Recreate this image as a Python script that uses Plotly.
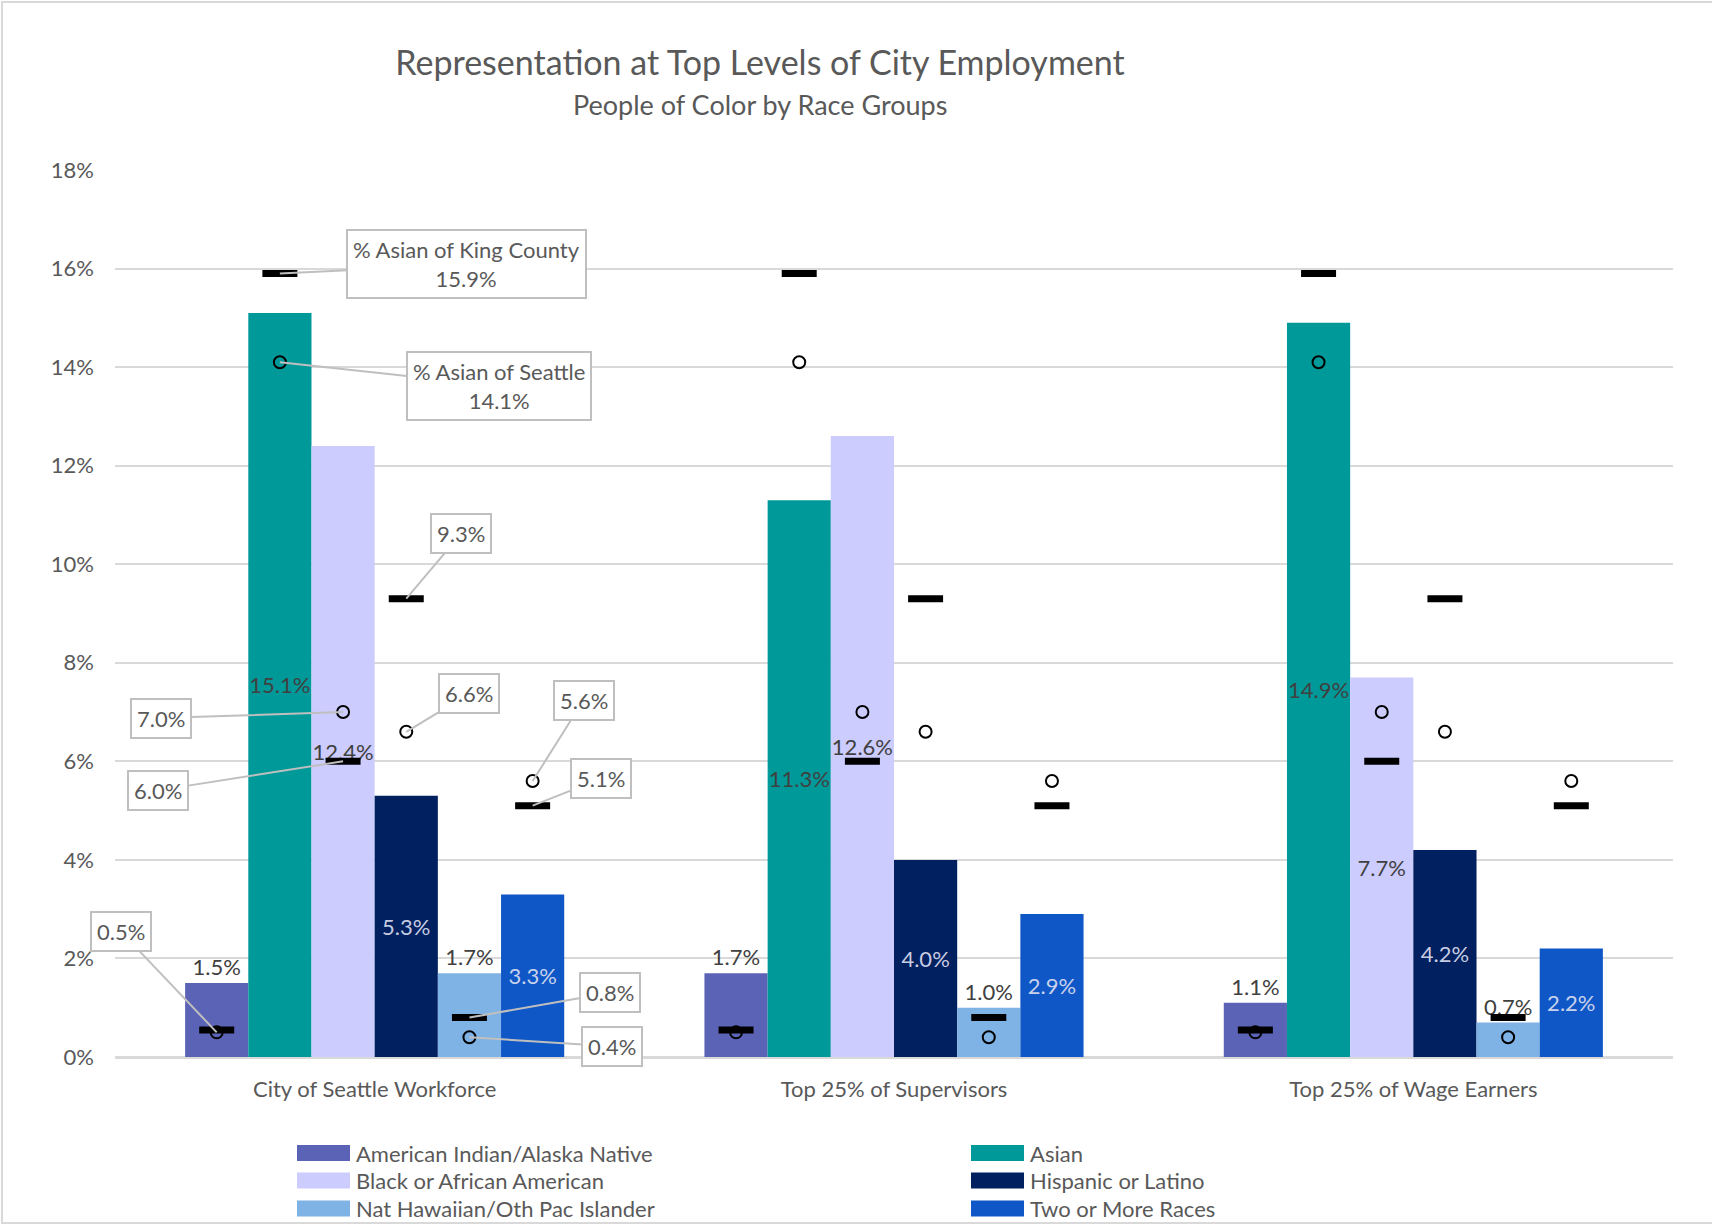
import plotly.graph_objects as go

# ---------------- data ----------------
categories = ["City of Seattle Workforce", "Top 25% of Supervisors", "Top 25% of Wage Earners"]
races = [
    "American Indian/Alaska Native",
    "Asian",
    "Black or African American",
    "Hispanic or Latino",
    "Nat Hawaiian/Oth Pac Islander",
    "Two or More Races",
]
american_indian = [1.5, 1.7, 1.1]
asian = [15.1, 11.3, 14.9]
black = [12.4, 12.6, 7.7]
hispanic = [5.3, 4.0, 4.2]
pacific_islander = [1.7, 1.0, 0.7]
two_or_more = [3.3, 2.9, 2.2]

# benchmark values per race (same for every category)
king_county_pct = [0.55, 15.9, 6.0, 9.3, 0.8, 5.1]
seattle_pct = [0.5, 14.1, 7.0, 6.6, 0.4, 5.6]

y_ticks = [0, 2, 4, 6, 8, 10, 12, 14, 16, 18]
y_tick_labels = ["0%", "2%", "4%", "6%", "8%", "10%", "12%", "14%", "16%", "18%"]

# ---------------- styles ----------------
series = [american_indian, asian, black, hispanic, pacific_islander, two_or_more]
colors = ["#5B63B6", "#009999", "#CCCCFF", "#002060", "#7FB2E5", "#0F57C6"]
label_colors = ["#404040", "#404040", "#404040", "#C8CCE2", "#404040", "#C8D2EC"]
label_pos = ["outside", "inside", "inside", "inside", "outside", "inside"]
FONT = "Lato"
GREY = "#595959"
BARGAP = 0.27
FS = 22

W, H = 1712, 1225
ML, MR, MT, MB = 115, 39, 170, 168
PW, PH = W - ML - MR, H - MT - MB


def paper_x(px):
    return (px - ML) / PW


def paper_y(py):
    return (H - MB - py) / PH


fig = go.Figure()

for i, (name, vals) in enumerate(zip(races, series)):
    fig.add_trace(go.Bar(
        x=categories, y=vals, name=name,
        marker=dict(color=colors[i], line=dict(width=0)),
        offsetgroup=str(i),
        texttemplate="%{y:.1f}%",
        textposition=label_pos[i],
        insidetextanchor="middle",
        constraintext="none",
        textangle=0,
        textfont=dict(family=FONT, size=FS, color=label_colors[i]),
        outsidetextfont=dict(family=FONT, size=FS, color=label_colors[i]),
        cliponaxis=False,
        hoverinfo="skip",
        showlegend=False,
    ))

# Seattle benchmark (open circles)
for i, name in enumerate(races):
    fig.add_trace(go.Scatter(
        x=categories, y=[seattle_pct[i]] * len(categories),
        mode="markers", offsetgroup=str(i), showlegend=False,
        marker=dict(symbol="circle-open", size=12, color="black", line=dict(width=2, color="black")),
        hoverinfo="skip", cliponaxis=False,
    ))
# King County benchmark (dashes)
for i, name in enumerate(races):
    fig.add_trace(go.Scatter(
        x=categories, y=[king_county_pct[i]] * len(categories),
        mode="markers", offsetgroup=str(i), showlegend=False,
        marker=dict(symbol="line-ew", size=25, color="black", line=dict(width=7, color="black")),
        hoverinfo="skip", cliponaxis=False,
    ))

# ---------------- callouts (first category) ----------------
slot = (1 - BARGAP) / len(races)


def bar_x(race_idx, cat_idx=0):
    return cat_idx + (race_idx - (len(races) - 1) / 2) * slot


callouts = [
    # (race idx, which benchmark, text, ax, ay)
    (1, "king", "% Asian of King County<br>15.9%", 187, -9),
    (1, "sea", "% Asian of Seattle<br>14.1%", 219, 24),
    (3, "king", "9.3%", 55, -65),
    (2, "sea", "7.0%", -182, 6),
    (3, "sea", "6.6%", 63, -38),
    (2, "king", "6.0%", -185, 29),
    (5, "sea", "5.6%", 51, -81),
    (5, "king", "5.1%", 68, -27),
    (0, "sea", "0.5%", -96, -101),
    (4, "king", "0.8%", 141, -25),
    (4, "sea", "0.4%", 143, 9),
]
for r, kind, txt, ax, ay in callouts:
    yv = king_county_pct[r] if kind == "king" else seattle_pct[r]
    fig.add_annotation(
        x=bar_x(r), y=yv, xref="x", yref="y", text=txt,
        showarrow=True, arrowhead=0, arrowwidth=2, arrowcolor="#BFBFBF",
        ax=ax, ay=ay, axref="pixel", ayref="pixel",
        bgcolor="white", bordercolor="#BFBFBF", borderwidth=2, borderpad=5,
        font=dict(family=FONT, size=FS, color=GREY),
    )

# subtitle
fig.add_annotation(
    text="People of Color by Race Groups", xref="paper", yref="paper",
    x=paper_x(760), y=paper_y(105), xanchor="center", yanchor="middle",
    showarrow=False, font=dict(family=FONT, size=27, color=GREY),
)

# ---------------- legend (two columns, three rows) ----------------
legend_cols_px = [297, 971]
legend_rows_px = [1153, 1180.5, 1208.5]
shapes = []
for i, name in enumerate(races):
    cx = legend_cols_px[i % 2]
    cy = legend_rows_px[i // 2]
    shapes.append(dict(
        type="rect", xref="paper", yref="paper",
        xsizemode="pixel", ysizemode="pixel",
        xanchor=paper_x(cx), yanchor=paper_y(cy),
        x0=0, x1=53, y0=-8, y1=8,
        fillcolor=colors[i], line=dict(width=0),
    ))
    fig.add_annotation(
        text=name, xref="paper", yref="paper",
        x=paper_x(cx + 57), y=paper_y(cy), xanchor="left", yanchor="middle",
        showarrow=False, font=dict(family=FONT, size=FS, color=GREY),
    )

# chart frame
shapes.append(dict(
    type="rect", xref="paper", yref="paper",
    x0=paper_x(2), x1=paper_x(W + 20), y0=paper_y(H - 2), y1=paper_y(2),
    line=dict(color="#D9D9D9", width=2), fillcolor="rgba(0,0,0,0)", layer="below",
))

fig.update_layout(
    width=W, height=H,
    margin=dict(l=ML, r=MR, t=MT, b=MB, autoexpand=False),
    paper_bgcolor="white", plot_bgcolor="white",
    barmode="group", bargap=BARGAP, bargroupgap=0,
    scattermode="group", scattergap=BARGAP,
    showlegend=False,
    title=dict(
        text="Representation at Top Levels of City Employment",
        x=760 / W, xanchor="center", xref="container",
        y=1 - 63 / H, yanchor="middle", yref="container",
        font=dict(family=FONT, size=34, color=GREY),
    ),
    font=dict(family=FONT, color=GREY),
    xaxis=dict(
        type="category", range=[-0.5, 2.5], showgrid=False, ticks="", showline=True,
        linecolor="#D9D9D9", linewidth=2,
        tickfont=dict(family=FONT, size=FS, color=GREY),
        ticklabelstandoff=12,
    ),
    yaxis=dict(
        range=[0, 18], tickmode="array", tickvals=y_ticks, ticktext=y_tick_labels,
        showgrid=True, gridcolor="#D9D9D9", gridwidth=2,
        zeroline=True, zerolinecolor="#D9D9D9", zerolinewidth=2,
        tickfont=dict(family=FONT, size=FS, color=GREY),
        ticklabelstandoff=20,
    ),
    hovermode=False,
    shapes=shapes,
)

fig.write_html("out.html")
